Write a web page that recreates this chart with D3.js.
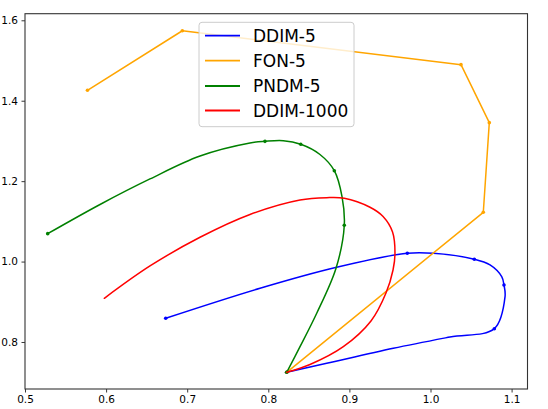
<!DOCTYPE html>
<html>
<head>
<meta charset="utf-8">
<script src="https://cdn.jsdelivr.net/npm/d3@7"></script>
<style>
    html, body { margin: 0; padding: 0; background: #fff; }
    svg { display: block; font-family: "DejaVu Sans", sans-serif; }
</style>
</head>
<body>
<div id="chart"></div>
<script>
/*
 * Chart data.
 */
var xTicks = [0.5, 0.6, 0.7, 0.8, 0.9, 1.0, 1.1];
var yTicks = [0.8, 1.0, 1.2, 1.4, 1.6];

var seriesNames = ['DDIM-5', 'FON-5', 'PNDM-5', 'DDIM-1000'];
var seriesColors = ['#0000ff', '#ffa500', '#008000', '#ff0000'];

var ddim5Path = [
    [0.8227, 0.7246], [0.8720, 0.7470], [0.9541, 0.7843], [1.0240, 0.8124],
    [1.0787, 0.8331], [1.0919, 0.9127], [1.0906, 0.9418], [1.0878, 0.9624],
    [1.0734, 0.9915], [1.0540, 1.0057], [1.0035, 1.0206], [0.9714, 1.0206],
    [0.8843, 0.9858], [0.7898, 0.9336], [0.6735, 0.8590]
];
var ddim5Steps = [
    [0.8227, 0.7246], [1.0787, 0.8331], [1.0906, 0.9418],
    [1.0540, 1.0057], [0.9714, 1.0206], [0.6735, 0.8590]
];

var fon5Steps = [
    [0.8227, 0.7246], [1.0651, 1.1225], [1.0725, 1.3454],
    [1.0376, 1.4897], [0.6940, 1.5740], [0.5770, 1.4260]
];

var pndm5Path = [
    [0.8227, 0.7246], [0.8391, 0.7883], [0.8597, 0.8714], [0.8835, 0.9833],
    [0.8937, 1.0902], [0.8909, 1.1614], [0.8814, 1.2260], [0.8637, 1.2663],
    [0.8400, 1.2917], [0.8185, 1.3006], [0.7959, 1.2990], [0.7774, 1.2949],
    [0.7158, 1.2625], [0.6541, 1.2055], [0.5925, 1.1420], [0.5280, 1.0694]
];
var pndm5Steps = [
    [0.8227, 0.7246], [0.8937, 1.0902], [0.8814, 1.2260],
    [0.8400, 1.2917], [0.7959, 1.2990], [0.5280, 1.0694]
];

var ddim1000Path = [
    [0.8227, 0.7246], [0.8514, 0.7440], [0.8925, 0.7883], [0.9266, 0.8522],
    [0.9451, 0.9218], [0.9538, 0.9791], [0.9562, 1.0206], [0.9532, 1.0735],
    [0.9415, 1.1121], [0.9254, 1.1350], [0.8937, 1.1574], [0.8720, 1.1589],
    [0.8391, 1.1531], [0.7774, 1.1171], [0.7158, 1.0604], [0.6541, 0.9890],
    [0.5978, 0.9087]
];

/*
 * Layout.
 */
var width = 548, height = 409;
var plot = { left: 25, right: 527.5, top: 13.7, bottom: 389 };

var x = d3.scaleLinear().domain([0.5, 1.1196]).range([plot.left, plot.right]);
var y = d3.scaleLinear().domain([0.6831, 1.6164]).range([plot.bottom, plot.top]);

var svg = d3.select('#chart').append('svg')
    .attr('width', width)
    .attr('height', height);

/*
 * Line generators.
 */
var smoothLine = d3.line()
    .x(d => x(d[0]))
    .y(d => y(d[1]))
    .curve(d3.curveCatmullRom.alpha(0.5));

var straightLine = d3.line()
    .x(d => x(d[0]))
    .y(d => y(d[1]));

/*
 * Series, drawn in the same order as the legend.
 */
var series = [
    { path: ddim5Path, steps: ddim5Steps, gen: smoothLine },
    { path: fon5Steps, steps: fon5Steps, gen: straightLine },
    { path: pndm5Path, steps: pndm5Steps, gen: smoothLine },
    { path: ddim1000Path, steps: [], gen: smoothLine }
];

var marks = svg.append('g');

series.forEach(function(s, i) {
    marks.append('path')
        .attr('d', s.gen(s.path))
        .attr('fill', 'none')
        .attr('stroke', seriesColors[i])
        .attr('stroke-width', 1.5)
        .attr('stroke-linejoin', 'round')
        .attr('stroke-linecap', 'round');

    marks.selectAll(null)
        .data(s.steps)
        .enter().append('circle')
        .attr('cx', d => x(d[0]))
        .attr('cy', d => y(d[1]))
        .attr('r', 1.8)
        .attr('fill', seriesColors[i]);
});

/*
 * Axes.
 */
var xAxis = d3.axisBottom(x)
    .tickValues(xTicks)
    .tickFormat(d3.format('.1f'))
    .tickSizeInner(3.5)
    .tickSizeOuter(0)
    .tickPadding(3.5);

var yAxis = d3.axisLeft(y)
    .tickValues(yTicks)
    .tickFormat(d3.format('.1f'))
    .tickSizeInner(3.5)
    .tickSizeOuter(0)
    .tickPadding(3.5);

var gx = svg.append('g')
    .attr('transform', 'translate(0,' + plot.bottom + ')')
    .call(xAxis);

var gy = svg.append('g')
    .attr('transform', 'translate(' + plot.left + ',0)')
    .call(yAxis);

[gx, gy].forEach(function(g) {
    g.select('.domain').remove();
    g.selectAll('.tick line').attr('stroke', '#222').attr('stroke-width', 0.9);
    g.selectAll('.tick text')
        .attr('fill', '#000')
        .style('font-size', '10.5px')
        .style('font-family', '"DejaVu Sans", sans-serif');
});

/*
 * Frame.
 */
svg.append('rect')
    .attr('x', plot.left)
    .attr('y', plot.top)
    .attr('width', plot.right - plot.left)
    .attr('height', plot.bottom - plot.top)
    .attr('fill', 'none')
    .attr('stroke', '#333')
    .attr('stroke-width', 1.1);

/*
 * Legend.
 */
var legend = svg.append('g');

legend.append('rect')
    .attr('x', 199)
    .attr('y', 22.3)
    .attr('width', 155)
    .attr('height', 104.4)
    .attr('rx', 3)
    .attr('fill', 'rgba(255,255,255,0.8)')
    .attr('stroke', '#cccccc')
    .attr('stroke-width', 1);

var rowY = [35.7, 60.7, 86, 110.5];

seriesNames.forEach(function(name, i) {
    legend.append('line')
        .attr('x1', 205)
        .attr('x2', 240)
        .attr('y1', rowY[i])
        .attr('y2', rowY[i])
        .attr('stroke', seriesColors[i])
        .attr('stroke-width', 1.8);

    legend.append('text')
        .attr('x', 253)
        .attr('y', rowY[i])
        .attr('dy', '0.36em')
        .style('font-size', '17px')
        .attr('fill', '#000')
        .text(name);
});
</script>
</body>
</html>
